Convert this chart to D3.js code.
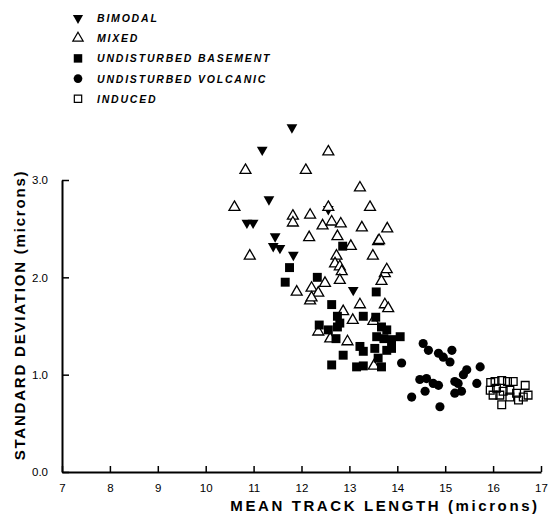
<!DOCTYPE html>
<html>
<head>
<meta charset="utf-8">
<script src="https://cdn.jsdelivr.net/npm/d3@7"></script>
<style>
  body { margin: 0; background: #fff; }
  text { font-family: "Liberation Sans", Arial, sans-serif; fill: #000; }
</style>
</head>
<body>
<div id="scatter"></div>
<script>
// -----------------------------------------//
//                 Data
// -----------------------------------------//

// [mean track length, standard deviation]
var bimodal = [
  [11.80, 3.54], [11.18, 3.31], [11.32, 2.80], [10.86, 2.56], [10.99, 2.56],
  [11.45, 2.42], [11.41, 2.32], [11.55, 2.30], [11.83, 2.23], [12.56, 2.70],
  [13.08, 1.87]
];

var mixed = [
  [12.56, 3.29], [10.83, 3.10], [12.09, 3.10], [13.22, 2.92], [10.60, 2.72],
  [13.43, 2.72], [11.82, 2.63], [11.82, 2.56], [12.18, 2.64], [12.44, 2.53],
  [12.63, 2.57], [12.82, 2.55], [13.26, 2.51], [12.16, 2.41], [12.75, 2.42],
  [13.03, 2.32], [13.60, 2.37], [10.92, 2.22], [12.73, 2.22], [13.49, 2.22],
  [13.79, 2.50], [13.62, 2.38], [12.56, 2.72], [12.70, 2.14], [12.80, 2.11],
  [12.84, 2.06], [13.74, 2.04], [13.78, 2.08], [11.90, 1.85], [12.21, 1.89],
  [12.35, 1.84], [12.49, 1.94], [12.18, 1.76], [12.80, 1.97], [13.67, 1.96],
  [13.22, 1.72], [13.74, 1.72], [13.81, 1.68], [12.87, 1.65], [13.07, 1.56],
  [12.21, 1.79], [12.35, 1.44], [12.60, 1.37], [12.96, 1.34], [13.50, 1.55],
  [13.51, 1.09]
];

var basement = [
  [12.86, 2.32], [11.75, 2.10], [11.66, 1.95], [12.33, 2.00], [13.56, 1.85],
  [12.63, 1.72], [12.75, 1.60], [12.37, 1.51], [12.56, 1.46], [12.75, 1.49],
  [12.80, 1.53], [12.72, 1.37], [13.29, 1.60], [13.55, 1.59], [13.67, 1.49],
  [13.78, 1.46], [13.57, 1.39], [13.72, 1.37], [13.88, 1.36], [14.06, 1.39],
  [13.22, 1.29], [13.29, 1.24], [13.53, 1.27], [13.78, 1.25], [13.88, 1.27],
  [12.87, 1.20], [12.63, 1.10], [13.15, 1.08], [13.29, 1.09], [13.60, 1.17],
  [13.67, 1.08]
];

var volcanic = [
  [14.09, 1.12], [14.54, 1.32], [14.65, 1.25], [14.86, 1.22], [14.96, 1.18],
  [15.10, 1.13], [15.14, 1.25], [15.73, 1.08], [15.45, 1.05], [15.38, 1.00],
  [15.20, 0.93], [15.27, 0.91], [14.47, 0.95], [14.61, 0.96], [14.75, 0.91],
  [14.86, 0.89], [14.58, 0.83], [14.30, 0.77], [15.20, 0.81], [15.34, 0.83],
  [15.66, 0.91], [14.89, 0.67]
];

var induced = [
  [15.95, 0.92], [16.04, 0.93], [16.18, 0.94], [16.30, 0.93], [16.42, 0.93],
  [16.67, 0.89], [15.94, 0.84], [16.07, 0.86], [16.21, 0.83], [16.35, 0.84],
  [16.49, 0.81], [16.63, 0.77], [16.73, 0.79], [16.00, 0.79], [16.14, 0.79],
  [16.35, 0.77], [16.53, 0.74], [16.18, 0.69]
];

var xTicks = [7, 8, 9, 10, 11, 12, 13, 14, 15, 16, 17];
var yTicks = [0, 1, 2, 3];

var legendNames = ["BIMODAL", "MIXED", "UNDISTURBED BASEMENT", "UNDISTURBED VOLCANIC", "INDUCED"];

// -----------------------------------------//
//              SVG Area
// -----------------------------------------//

var svgWidth = 550;
var svgHeight = 514;

var svg = d3.select("#scatter")
  .append("svg")
  .attr("width", svgWidth)
  .attr("height", svgHeight);

var xScale = d3.scaleLinear().domain([7, 17]).range([62, 541]);
var yScale = d3.scaleLinear().domain([0, 3]).range([472, 180]);

// symbol styles per series
var styles = [
  { data: bimodal,  type: d3.symbolTriangle, size: 50, fill: "#000", stroke: "none", rot: 180 },
  { data: mixed,    type: d3.symbolTriangle, size: 52, fill: "#fff", stroke: "#000", rot: 0 },
  { data: basement, type: d3.symbolSquare,   size: 80, fill: "#000", stroke: "none", rot: 0 },
  { data: volcanic, type: d3.symbolCircle,   size: 66, fill: "#000", stroke: "none", rot: 0 },
  { data: induced,  type: d3.symbolSquare,   size: 60, fill: "none", stroke: "#000", rot: 0 }
];

// -----------------------------------------//
//                 Axes
// -----------------------------------------//

var xAxis = svg.append("g")
  .attr("transform", `translate(0, ${yScale(0)})`)
  .call(d3.axisBottom(xScale).tickValues(xTicks).tickSizeInner(-6).tickSizeOuter(0).tickPadding(12).tickFormat(d3.format("d")));

var yAxis = svg.append("g")
  .attr("transform", `translate(${xScale(7)}, 0)`)
  .call(d3.axisLeft(yScale).tickValues(yTicks).tickSizeInner(-7).tickSizeOuter(0).tickPadding(14).tickFormat(d3.format(".1f")));

[xAxis, yAxis].forEach(function(ax) {
  ax.select(".domain").attr("stroke", "#000").attr("stroke-width", 2);
  ax.selectAll(".tick line").attr("stroke", "#000").attr("stroke-width", 1.5);
  ax.selectAll(".tick text").style("font-size", "11.5px").style("font-family", "Liberation Sans, Arial, sans-serif");
});

svg.append("text")
  .attr("x", 385)
  .attr("y", 511)
  .attr("text-anchor", "middle")
  .style("font-size", "15px")
  .style("font-weight", "bold")
  .style("letter-spacing", "2.6px")
  .text("MEAN TRACK LENGTH (microns)");

svg.append("text")
  .attr("transform", "rotate(-90)")
  .attr("x", -315)
  .attr("y", 25)
  .attr("text-anchor", "middle")
  .style("font-size", "15px")
  .style("font-weight", "bold")
  .style("letter-spacing", "1.8px")
  .text("STANDARD DEVIATION (microns)");

// -----------------------------------------//
//                Points
// -----------------------------------------//

styles.forEach(function(s) {
  svg.append("g").selectAll("path")
    .data(s.data)
    .enter()
    .append("path")
    .attr("d", d3.symbol().type(s.type).size(s.size))
    .attr("transform", d => `translate(${xScale(d[0])}, ${yScale(d[1])}) rotate(${s.rot})`)
    .attr("fill", s.fill)
    .attr("stroke", s.stroke)
    .attr("stroke-width", 1.3);
});

// -----------------------------------------//
//                Legend
// -----------------------------------------//

var legend = svg.append("g");

styles.forEach(function(s, i) {
  var ly = 18 + i * 20.2;
  legend.append("path")
    .attr("d", d3.symbol().type(s.type).size(s.size * 0.9))
    .attr("transform", `translate(78, ${ly}) rotate(${s.rot})`)
    .attr("fill", s.fill)
    .attr("stroke", s.stroke)
    .attr("stroke-width", 1.2);
  legend.append("text")
    .attr("x", 97)
    .attr("y", ly + 4)
    .style("font-size", "10.5px")
    .style("font-weight", "bold")
    .style("font-style", "italic")
    .style("letter-spacing", "1.8px")
    .text(legendNames[i]);
});
</script>
</body>
</html>
